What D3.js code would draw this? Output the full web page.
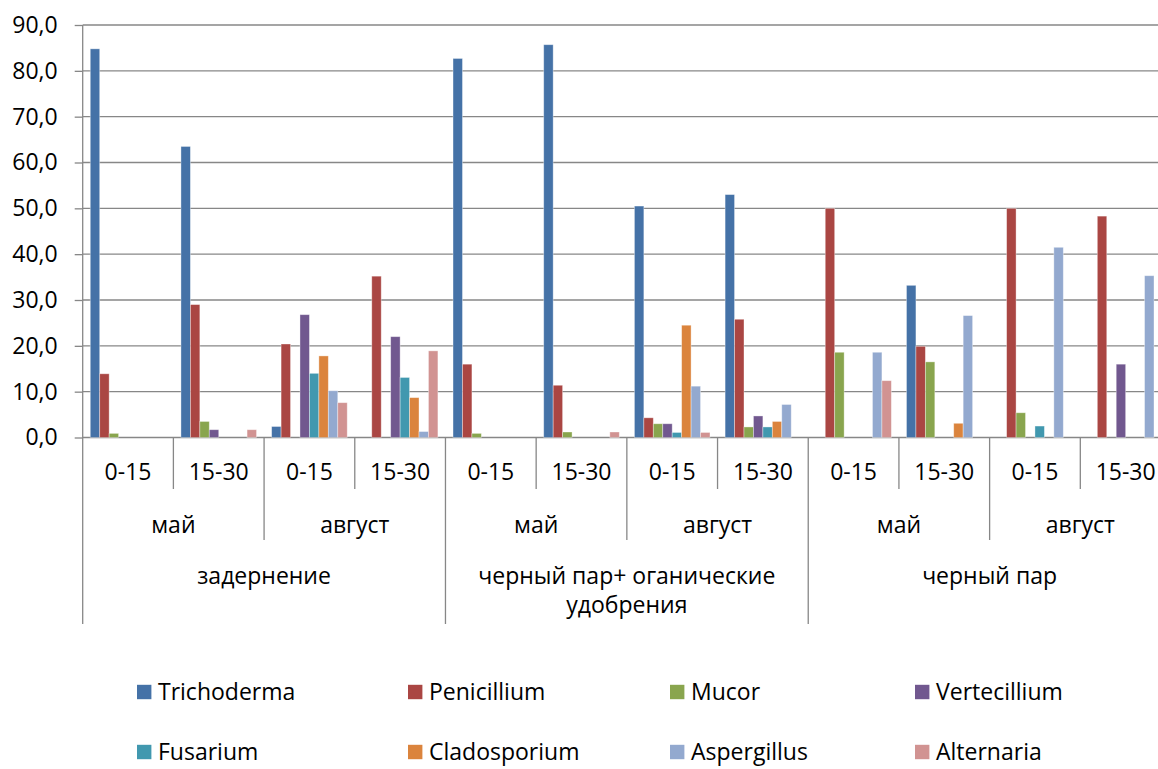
<!DOCTYPE html>
<html>

<head>
  <meta charset="utf-8">
  <title>Грибы по вариантам</title>
  <script src="https://cdn.jsdelivr.net/npm/d3@7"></script>
  <style>
    body { margin: 0; background: #fff; }
    text { font-family: "Open Sans", sans-serif; fill: #000; }
  </style>
</head>

<body>
  <svg width="1158" height="769" id="mainsvg"></svg>
  <script>
    // category levels
    const treatments = ['задернение', 'черный пар+ оганические удобрения', 'черный пар'];
    const months = ['май', 'август'];
    const depths = ['0-15', '15-30'];
    const seriesNames = ['Trichoderma', 'Penicillium', 'Mucor', 'Vertecillium',
      'Fusarium', 'Cladosporium', 'Aspergillus', 'Alternaria'];
    const colors = ['#4572A7', '#AA4643', '#89A54E', '#71588F', '#4198AF', '#DB843D', '#93A9CF', '#D19392'];
    const yTicks = [0, 10, 20, 30, 40, 50, 60, 70, 80, 90];

    // values, one per category (12)
    const trichoderma = [84.8, 63.5, 2.4, 0, 82.7, 85.7, 50.5, 53.0, 0, 33.2, 0, 0];
    const penicillium = [13.9, 29.0, 20.4, 35.2, 16.0, 11.4, 4.3, 25.8, 50.0, 19.9, 50.0, 48.3];
    const mucor = [0.9, 3.5, 0, 0, 0.9, 1.2, 3.0, 2.3, 18.6, 16.5, 5.4, 0];
    const vertecillium = [0, 1.7, 26.8, 22.0, 0, 0, 3.0, 4.7, 0, 0, 0, 16.0];
    const fusarium = [0, 0, 14.0, 13.1, 0, 0, 1.1, 2.3, 0, 0, 2.5, 0];
    const cladosporium = [0, 0, 17.8, 8.7, 0, 0, 24.5, 3.5, 0, 3.1, 0, 0];
    const aspergillus = [0, 0, 10.2, 1.3, 0, 0, 11.2, 7.2, 18.6, 26.6, 41.5, 35.3];
    const alternaria = [0, 1.7, 7.6, 18.9, 0, 1.2, 1.1, 0, 12.4, 0, 0, 0];
    const seriesValues = [trichoderma, penicillium, mucor, vertecillium, fusarium, cladosporium, aspergillus, alternaria];

    // build flat category list: treatment / month / depth
    const categories = [];
    treatments.forEach(t => months.forEach(m => depths.forEach(d => {
      categories.push({ id: categories.length, treatment: t, month: m, depth: d });
    })));

    const svg = d3.select('#mainsvg');
    const plot = { left: 82.7, right: 1171, top: 25, bottom: 437.5 };
    const gridColor = '#878787';
    const fontSize = 23;

    const xScale = d3.scaleBand()
      .domain(categories.map(c => c.id))
      .range([plot.left, plot.right]);
    const xInner = d3.scaleBand()
      .domain(seriesNames)
      .range([0, xScale.bandwidth()])
      .paddingOuter(0.8);
    const yScale = d3.scaleLinear()
      .domain([0, 90])
      .range([plot.bottom, plot.top]);

    // gridlines
    svg.append('g').selectAll('line')
      .data(yTicks)
      .enter().append('line')
      .attr('x1', plot.left).attr('x2', plot.right)
      .attr('y1', d => yScale(d)).attr('y2', d => yScale(d))
      .attr('stroke', gridColor).attr('stroke-width', 1.3);

    // bars
    const groups = svg.append('g').selectAll('g')
      .data(categories)
      .enter().append('g')
      .attr('transform', c => `translate(${xScale(c.id)},0)`);
    groups.selectAll('rect')
      .data(c => seriesNames.map((s, i) => ({ s, i, v: seriesValues[i][c.id] })).filter(d => d.v > 0))
      .enter().append('rect')
      .attr('x', d => xInner(d.s))
      .attr('width', xInner.bandwidth())
      .attr('y', d => yScale(d.v))
      .attr('height', d => yScale(0) - yScale(d.v))
      .attr('fill', d => colors[d.i])
      .attr('stroke', '#fff').attr('stroke-opacity', 0.45).attr('stroke-width', 0.8);

    // y axis
    const yAxis = d3.axisLeft(yScale)
      .tickValues(yTicks)
      .tickSize(8)
      .tickPadding(17)
      .tickFormat(d => d.toFixed(1).replace('.', ','));
    const yAxisGroup = svg.append('g')
      .attr('transform', `translate(${plot.left},0)`)
      .call(yAxis);
    yAxisGroup.select('.domain').remove();
    yAxisGroup.selectAll('line').attr('stroke', gridColor).attr('stroke-width', 1.3);
    yAxisGroup.selectAll('text').attr('font-size', fontSize).attr('font-family', '"Open Sans", sans-serif').attr('fill', '#000');

    svg.append('line')
      .attr('x1', plot.left).attr('x2', plot.left).attr('y1', plot.top).attr('y2', 624)
      .attr('stroke', gridColor).attr('stroke-width', 1.3);

    // multi-level category axis
    const step = xScale.step();
    const lvl = svg.append('g');
    d3.range(1, categories.length + 1).forEach(i => {
      let y2 = 489;
      if (i % 2 === 0) y2 = 540;
      if (i % 4 === 0) y2 = 624;
      lvl.append('line')
        .attr('x1', plot.left + i * step).attr('x2', plot.left + i * step)
        .attr('y1', plot.bottom).attr('y2', y2)
        .attr('stroke', gridColor).attr('stroke-width', 1.3);
    });

    lvl.selectAll('text.depth')
      .data(categories)
      .enter().append('text')
      .attr('class', 'depth')
      .attr('x', c => xScale(c.id) + step / 2)
      .attr('y', 472)
      .attr('dy', '0.35em')
      .attr('text-anchor', 'middle')
      .attr('font-size', fontSize)
      .text(c => c.depth);

    const monthCells = [];
    treatments.forEach((t, ti) => months.forEach((m, mi) => monthCells.push({ m, start: ti * 4 + mi * 2 })));
    lvl.selectAll('text.month')
      .data(monthCells)
      .enter().append('text')
      .attr('class', 'month')
      .attr('x', d => plot.left + (d.start + 1) * step)
      .attr('y', 525)
      .attr('dy', '0.35em')
      .attr('text-anchor', 'middle')
      .attr('font-size', fontSize)
      .text(d => d.m);

    // long treatment name wraps onto two lines, like the original
    const treatLines = [['задернение'], ['черный пар+ оганические', 'удобрения'], ['черный пар']];
    treatments.forEach((t, ti) => {
      const cx = plot.left + (ti * 4 + 2) * step;
      const txt = lvl.append('text')
        .attr('x', cx)
        .attr('y', 576)
        .attr('text-anchor', 'middle')
        .attr('font-size', fontSize);
      treatLines[ti].forEach((line, li) => {
        txt.append('tspan')
          .attr('x', cx)
          .attr('dy', li === 0 ? '0.35em' : 29)
          .text(line);
      });
    });

    // legend
    const legendX = [137, 408, 670, 915];
    const legendY = [692, 752];
    const legend = svg.append('g').selectAll('g')
      .data(seriesNames)
      .enter().append('g')
      .attr('transform', (d, i) => `translate(${legendX[i % 4]},${legendY[Math.floor(i / 4)]})`);
    legend.append('rect')
      .attr('x', 0).attr('y', -7.2)
      .attr('width', 14.4).attr('height', 14.4)
      .attr('fill', (d, i) => colors[i]);
    legend.append('text')
      .attr('x', 21)
      .attr('dy', '0.35em')
      .attr('font-size', fontSize)
      .text(d => d);
  </script>
</body>

</html>
